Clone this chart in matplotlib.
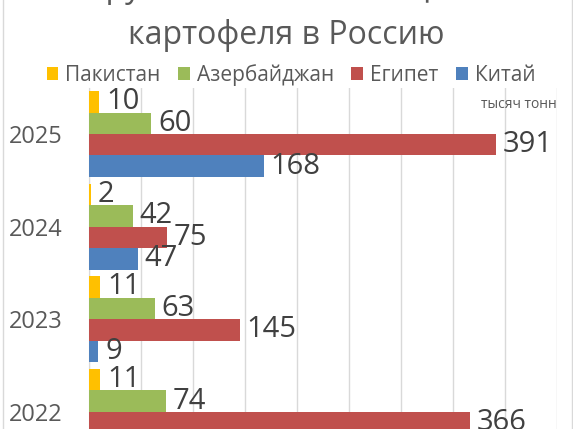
import numpy as np
import matplotlib
matplotlib.use('Agg')
import matplotlib.pyplot as plt
from matplotlib.patches import Patch
from matplotlib.lines import Line2D

plt.rcParams['font.family'] = ['Open Sans', 'DejaVu Sans']

# данные (тысяч тонн), сверху вниз
years = ['2025', '2024', '2023', '2022']
countries = ['Пакистан', 'Азербайджан', 'Египет', 'Китай']
pakistan = [10, 2, 11, 11]
azerbaijan = [60, 42, 63, 74]
egypt = [391, 75, 145, 366]
china = [168, 47, 9, np.nan]  # 2022 за краем картинки

colors = ['#FFC000', '#9BBB59', '#C0504D', '#4F81BD']
series = [pakistan, azerbaijan, egypt, china]

W, H = 573, 429
fig = plt.figure(figsize=(W / 100, H / 100), dpi=100)

# область графика: слева 89px, справа 557px, сверху 87.7px, шаг категории 92.6px
top_px = 87.7
step_px = 92.6
n = len(years)
ax_h = n * step_px / H
ax = fig.add_axes([89 / W, 1 - top_px / H - ax_h, (557 - 89) / W, ax_h])

bh = 0.232
y = np.arange(n)
for i, (vals, c) in enumerate(zip(series, colors)):
    off = (i - 1.5) * bh
    bars = ax.barh(y + off, vals, height=bh, color=c, label=countries[i], zorder=3)
    labels = ['' if np.isnan(v) else f'{int(v)}' for v in np.asarray(vals, float)]
    ax.bar_label(bars, labels=labels, padding=5, fontsize=21, color='#404040')

ax.set_xlim(0, 450)
ax.set_ylim(n - 0.5, -0.5)
ax.set_xticks(np.arange(0, 451, 50))
ax.xaxis.grid(True, color='#d9d9d9', linewidth=1, zorder=0)
ax.tick_params(axis='x', length=0, labelbottom=False)
ax.set_yticks(y, years)
ax.tick_params(axis='y', length=0, pad=19, labelsize=17, labelcolor='#595959')
for s in ['top', 'right', 'bottom']:
    ax.spines[s].set_visible(False)
ax.spines['left'].set_color('#d9d9d9')

# заголовок (верхняя строка обрезана)
fig.text(0.5, 1 + 3 / H, 'Крупнейшие поставщики', ha='center', va='baseline',
         fontsize=23, color='#595959')
fig.text(0.5, 1 - 43.5 / H, 'картофеля в Россию', ha='center', va='baseline',
         fontsize=23, color='#595959')

handles = [Patch(facecolor=c, edgecolor='none') for c in colors]
fig.legend(handles, countries, loc='center', bbox_to_anchor=(291 / W, 1 - 75 / H),
           ncol=4, frameon=False, fontsize=15, labelcolor='#595959',
           handlelength=0.56, handleheight=0.56, handletextpad=0.35,
           columnspacing=0.83, borderpad=0, borderaxespad=0)

fig.text(557 / W, 1 - 104 / H, 'тысяч тонн', ha='right', va='center',
         fontsize=10, color='#595959')

# рамка диаграммы
for xp in [2.5, 571.5]:
    fig.add_artist(Line2D([xp / W, xp / W], [0, 1], color='#d9d9d9', linewidth=1))

fig.savefig('out.png', dpi=100)
